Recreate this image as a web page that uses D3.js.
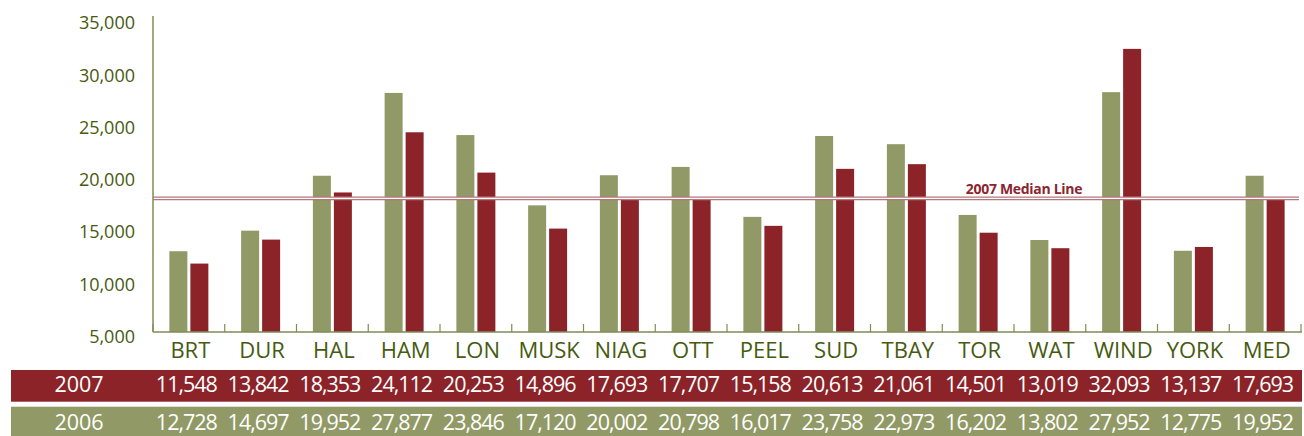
<!DOCTYPE html>
<html>
<head>
<meta charset="utf-8">
<script src="https://cdn.jsdelivr.net/npm/d3@7"></script>
<style>
  html, body { margin: 0; padding: 0; background: #fff; }
  svg { display: block; font-family: "Open Sans", "Noto Sans", sans-serif; }
</style>
</head>
<body>
<svg id="chart" width="1304" height="436"></svg>
<script>
const categories = ["BRT","DUR","HAL","HAM","LON","MUSK","NIAG","OTT","PEEL","SUD","TBAY","TOR","WAT","WIND","YORK","MED"];
const values2007 = [11548,13842,18353,24112,20253,14896,17693,17707,15158,20613,21061,14501,13019,32093,13137,17693];
const values2006 = [12728,14697,19952,27877,23846,17120,20002,20798,16017,23758,22973,16202,13802,27952,12775,19952];
const seriesNames = ["2006","2007"];
const yTickValues = [5000,10000,15000,20000,25000,30000,35000];
const median2007 = 17693;
const medianLabel = "2007 Median Line";

(function () {
const GREEN = "#919a66", RED = "#8b2329", AXIS = "#7f8c55", TEXT = "#465a10";

const svg = d3.select("#chart");
const mLeft = 153, mRight = 1301, mTop = 18.5, mBottom = 332;

const x = d3.scaleBand().domain(categories).range([mLeft, mRight]).paddingInner(0).paddingOuter(0);
const x1 = d3.scaleBand().domain(seriesNames).range([0, x.bandwidth()]).paddingInner(0.143).paddingOuter(0.78);
const y = d3.scaleLinear().domain([5000, 35000]).range([mBottom, mTop]);

// bars
const seriesData = { "2006": values2006, "2007": values2007 };
const colors = { "2006": GREEN, "2007": RED };
const g = svg.append("g");
categories.forEach((c, i) => {
  seriesNames.forEach(s => {
    const v = seriesData[s][i];
    g.append("rect")
      .attr("x", x(c) + x1(s))
      .attr("y", y(v))
      .attr("width", x1.bandwidth())
      .attr("height", y(5000) - y(v))
      .attr("fill", colors[s]);
  });
});

// median line (double)
const my = y(median2007) - 1;
svg.append("line").attr("x1", mLeft).attr("x2", mRight - 2).attr("y1", my).attr("y2", my)
  .attr("stroke", "#b57679").attr("stroke-width", 3.6);
svg.append("line").attr("x1", mLeft).attr("x2", mRight - 2).attr("y1", my).attr("y2", my)
  .attr("stroke", "#ffffff").attr("stroke-width", 1.3);
svg.append("text").attr("x", 1024).attr("y", my - 4.5)
  .attr("text-anchor", "middle").attr("fill", "#8b2630")
  .attr("font-weight", "bold").attr("font-size", 14).attr("letter-spacing", -0.3)
  .text(medianLabel);

// y axis
const yAxis = svg.append("g").attr("transform", `translate(${mLeft},0)`)
  .call(d3.axisLeft(y).tickValues(yTickValues).tickSize(0).tickPadding(18).tickFormat(d3.format(",")));
yAxis.select(".domain").remove();
yAxis.selectAll("text").attr("fill", TEXT).attr("font-size", 18).attr("dy", "0.58em")
  .attr("font-weight", 500).attr("font-family", "'Open Sans', sans-serif");
svg.append("line").attr("x1", mLeft).attr("x2", mLeft).attr("y1", mTop - 2.5).attr("y2", mBottom)
  .attr("stroke", AXIS).attr("stroke-width", 1.5);

// x axis
svg.append("line").attr("x1", mLeft).attr("x2", mRight + 1).attr("y1", mBottom).attr("y2", mBottom)
  .attr("stroke", AXIS).attr("stroke-width", 1.5);
const tickPos = categories.map(c => x(c)).concat([x(categories[categories.length - 1]) + x.bandwidth()]);
svg.selectAll(".xtick").data(tickPos).enter().append("line")
  .attr("x1", d => d).attr("x2", d => d).attr("y1", mBottom - 8).attr("y2", mBottom)
  .attr("stroke", AXIS).attr("stroke-width", 1.2);
svg.selectAll(".xlab").data(categories).enter().append("text")
  .attr("x", d => x(d) + x.bandwidth() / 2 + 1.5).attr("y", 358)
  .attr("text-anchor", "middle").attr("fill", TEXT).attr("font-size", 22).attr("font-weight", 500)
  .text(d => d);

// data rows
const rows = [
  { label: "2007", vals: values2007, color: RED, y0: 370, y1: 401.7, base: 391.5 },
  { label: "2006", vals: values2006, color: GREEN, y0: 406.7, y1: 436, base: 430 }
];
rows.forEach(r => {
  svg.append("rect").attr("x", 11).attr("y", r.y0).attr("width", mRight + 1 - 11).attr("height", r.y1 - r.y0)
    .attr("fill", r.color);
  svg.append("text").attr("x", 79).attr("y", r.base).attr("text-anchor", "middle")
    .attr("fill", "#fff").attr("font-size", 21.5).attr("font-weight", 500).text(r.label);
  svg.selectAll(null).data(categories).enter().append("text")
    .attr("x", (d) => x(d) + x.bandwidth() / 2 - 2.5).attr("y", r.base)
    .attr("text-anchor", "middle").attr("fill", "#fff").attr("font-size", 21.5).attr("font-weight", 500)
    .attr("letter-spacing", -1)
    .text((d, i) => d3.format(",")(r.vals[i]));
});
})();
</script>
</body>
</html>
